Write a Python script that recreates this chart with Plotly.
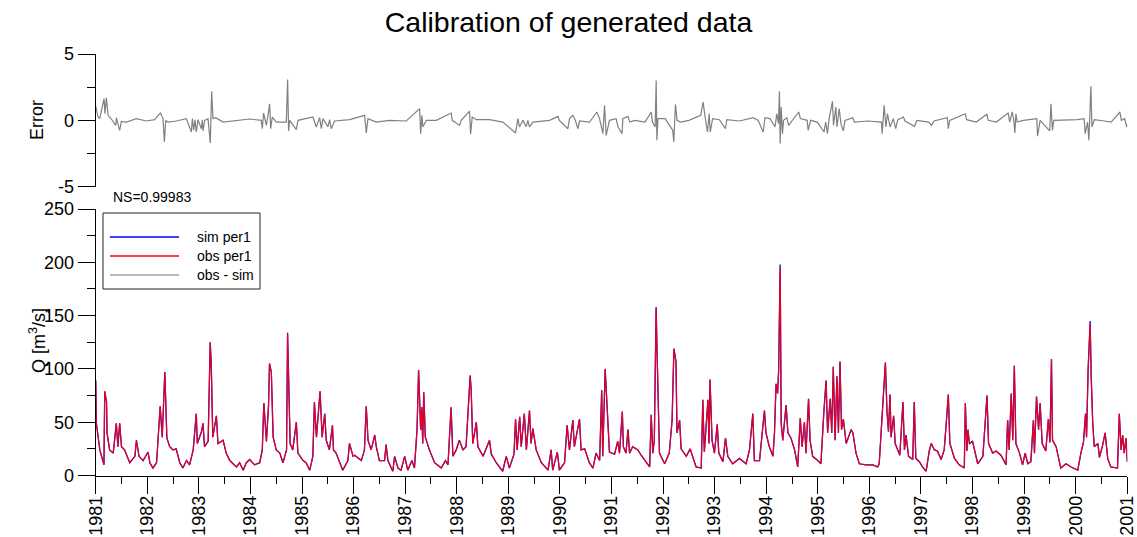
import plotly.graph_objects as go

W, H = 1137, 537

title_text = "Calibration of generated data"
ns_text = "NS=0.99983"
tick_years = list(range(1981, 2002))
tick_labels = [str(y) for y in tick_years]
minor_years = [y + 0.5 for y in range(1981, 2001)]
q_ticks = [0, 50, 100, 150, 200, 250]
q_minor = [25, 75, 125, 175, 225]
e_ticks = [-5, 0, 5]
e_minor = [-2.5, 2.5]
legend_names = ["sim per1", "obs per1", "obs - sim"]

obs_1981_1986 = [
    (1981.00, 89), (1981.013, 49), (1981.08, 24), (1981.14, 14), (1981.16, 10), (1981.175, 79),
    (1981.21, 69), (1981.22, 40), (1981.27, 24), (1981.34, 21), (1981.40, 49), (1981.43, 27),
    (1981.465, 49), (1981.50, 27), (1981.56, 24), (1981.66, 12), (1981.76, 18), (1981.79, 33),
    (1981.84, 18), (1981.92, 14), (1982.015, 22), (1982.05, 12), (1982.11, 7), (1982.18, 12),
    (1982.25, 65), (1982.29, 36), (1982.34, 97), (1982.38, 35), (1982.435, 27), (1982.50, 24),
    (1982.56, 25), (1982.63, 12), (1982.69, 7), (1982.76, 14), (1982.82, 10), (1982.89, 24),
    (1982.95, 58), (1982.97, 30), (1983.05, 41), (1983.08, 49), (1983.11, 27), (1983.18, 32),
    (1983.22, 125), (1983.24, 105), (1983.27, 36), (1983.34, 56), (1983.37, 30), (1983.47, 33),
    (1983.53, 21), (1983.60, 14), (1983.73, 8), (1983.79, 12), (1983.86, 5), (1983.92, 12),
    (1983.985, 15), (1984.08, 10), (1984.18, 12), (1984.23, 24), (1984.26, 68), (1984.31, 32),
    (1984.35, 65), (1984.37, 105), (1984.405, 97), (1984.44, 36), (1984.50, 24), (1984.57, 21),
    (1984.63, 12), (1984.70, 24), (1984.72, 133), (1984.75, 71), (1984.77, 30), (1984.82, 24),
    (1984.89, 50), (1984.92, 21), (1985.02, 14), (1985.08, 12), (1985.15, 5), (1985.21, 18),
    (1985.24, 69), (1985.28, 36), (1985.35, 79), (1985.39, 36), (1985.44, 58), (1985.47, 33),
    (1985.53, 24), (1985.59, 47), (1985.61, 24), (1985.66, 21), (1985.73, 12), (1985.79, 5),
    (1985.89, 14), (1985.92, 30), (1985.99, 18),
]
obs_1986_1991 = [
    (1986.02, 19), (1986.15, 14), (1986.21, 24), (1986.245, 65), (1986.28, 33), (1986.34, 24),
    (1986.41, 38), (1986.44, 27), (1986.50, 14), (1986.60, 14), (1986.63, 29), (1986.665, 14),
    (1986.76, 4), (1986.795, 18), (1986.86, 7), (1986.92, 5), (1986.99, 18), (1987.05, 5),
    (1987.13, 14), (1987.18, 7), (1987.23, 43), (1987.26, 99), (1987.30, 43), (1987.32, 64),
    (1987.34, 30), (1987.36, 78), (1987.39, 36), (1987.47, 24), (1987.57, 12), (1987.70, 7),
    (1987.78, 14), (1987.83, 10), (1987.89, 64), (1987.925, 18), (1987.99, 24), (1988.05, 33),
    (1988.12, 24), (1988.18, 27), (1988.235, 82), (1988.26, 93), (1988.28, 80), (1988.31, 30),
    (1988.38, 50), (1988.41, 27), (1988.51, 18), (1988.635, 33), (1988.67, 20), (1988.765, 12),
    (1988.89, 4), (1988.96, 18), (1989.02, 7), (1989.11, 20), (1989.14, 53), (1989.17, 24),
    (1989.22, 55), (1989.25, 27), (1989.31, 58), (1989.35, 24), (1989.41, 61), (1989.44, 30),
    (1989.475, 44), (1989.54, 24), (1989.64, 12), (1989.77, 5), (1989.83, 24), (1989.86, 5),
    (1989.95, 22), (1989.99, 5), (1990.09, 12), (1990.14, 47), (1990.185, 24), (1990.25, 52),
    (1990.28, 27), (1990.38, 53), (1990.41, 24), (1990.48, 25), (1990.57, 12), (1990.64, 7),
    (1990.70, 21), (1990.77, 14), (1990.81, 80), (1990.83, 18), (1990.877, 100), (1990.915, 57),
    (1990.96, 22), (1991.06, 20), (1991.12, 32),
]
obs_1991_1996 = [
    (1991.155, 21), (1991.21, 60), (1991.23, 27), (1991.28, 21), (1991.32, 43), (1991.35, 21),
    (1991.41, 27), (1991.51, 24), (1991.575, 19), (1991.64, 15), (1991.74, 8), (1991.77, 57),
    (1991.80, 21), (1991.83, 33), (1991.865, 157), (1991.89, 102), (1991.93, 21), (1992.03, 11),
    (1992.12, 21), (1992.175, 52), (1992.21, 119), (1992.25, 107), (1992.27, 40), (1992.32, 52),
    (1992.35, 25), (1992.45, 18), (1992.525, 25), (1992.64, 8), (1992.74, 7), (1992.77, 71),
    (1992.80, 22), (1992.87, 71), (1992.89, 30), (1992.91, 90), (1992.95, 33), (1992.995, 21),
    (1993.05, 48), (1993.08, 21), (1993.16, 13), (1993.21, 35), (1993.255, 18), (1993.35, 11),
    (1993.48, 16), (1993.61, 11), (1993.675, 24), (1993.74, 58), (1993.77, 14), (1993.87, 14),
    (1993.93, 43), (1993.965, 61), (1993.995, 40), (1994.06, 27), (1994.13, 18), (1994.16, 40),
    (1994.19, 86), (1994.22, 77), (1994.24, 98), (1994.27, 196), (1994.29, 49), (1994.32, 33),
    (1994.385, 66), (1994.42, 40), (1994.48, 35), (1994.55, 24), (1994.61, 8), (1994.64, 36),
    (1994.66, 54), (1994.695, 27), (1994.74, 50), (1994.77, 21), (1994.82, 72), (1994.85, 33),
    (1994.90, 18), (1995.00, 14), (1995.06, 11), (1995.115, 58), (1995.16, 89), (1995.19, 40),
    (1995.24, 72), (1995.27, 40), (1995.30, 102), (1995.335, 33), (1995.37, 93), (1995.40, 40),
    (1995.43, 107), (1995.46, 43), (1995.495, 53), (1995.55, 30), (1995.645, 43), (1995.68, 40),
    (1995.74, 21), (1995.805, 11), (1995.935, 10), (1996.065, 10), (1996.16, 8),
]
obs_1996_2001 = [
    (1996.19, 11), (1996.25, 58), (1996.29, 86), (1996.31, 106), (1996.34, 61), (1996.37, 41),
    (1996.40, 76), (1996.42, 36), (1996.47, 56), (1996.50, 30), (1996.55, 24), (1996.59, 19),
    (1996.65, 69), (1996.68, 24), (1996.71, 38), (1996.76, 18), (1996.84, 15), (1996.87, 69),
    (1996.90, 16), (1996.97, 13), (1997.03, 8), (1997.10, 4), (1997.16, 23), (1997.20, 30),
    (1997.26, 24), (1997.32, 23), (1997.39, 15), (1997.45, 24), (1997.49, 49), (1997.53, 76),
    (1997.56, 30), (1997.65, 16), (1997.74, 10), (1997.84, 7), (1997.86, 68), (1997.89, 23),
    (1997.91, 43), (1997.94, 30), (1998.00, 32), (1998.10, 11), (1998.20, 18), (1998.28, 75),
    (1998.31, 30), (1998.39, 21), (1998.455, 23), (1998.55, 19), (1998.65, 10), (1998.68, 52),
    (1998.71, 24), (1998.75, 77), (1998.78, 33), (1998.81, 103), (1998.84, 30), (1998.91, 21),
    (1998.97, 10), (1999.02, 21), (1999.07, 11), (1999.13, 13), (1999.18, 52), (1999.20, 21),
    (1999.24, 74), (1999.28, 43), (1999.31, 68), (1999.35, 30), (1999.42, 23), (1999.47, 53),
    (1999.50, 31), (1999.53, 109), (1999.55, 33), (1999.62, 27), (1999.71, 7), (1999.81, 11),
    (1999.91, 8), (2000.04, 5), (2000.10, 21), (2000.15, 31), (2000.19, 58), (2000.21, 36),
    (2000.24, 99), (2000.26, 121), (2000.28, 143), (2000.30, 93), (2000.33, 49), (2000.36, 27),
    (2000.43, 30), (2000.46, 17), (2000.52, 28), (2000.57, 40), (2000.62, 16), (2000.68, 8),
    (2000.81, 7), (2000.845, 58), (2000.88, 24), (2000.91, 38), (2000.94, 21), (2000.975, 35),
    (2001.0, 13),
]
# simulated peaks that stick out slightly above the observed ones
sim_tips = {1984.72: 134, 1991.865: 158, 1994.27: 198, 2000.28: 145, 1988.26: 94}

# error obs - sim (decimal year, m3/s)
err_1981_1991 = [
    (1981.0, 1.1), (1981.045, 0.25), (1981.078, 0.13), (1981.162, 1.63), (1981.18, 0.5),
    (1981.207, 1.7), (1981.24, 0.38), (1981.304, 0.1), (1981.388, -0.38), (1981.40, 0.2),
    (1981.465, -0.75), (1981.498, -0.08), (1981.595, -0.13), (1981.788, 0.13), (1981.982, -0.05),
    (1982.144, 0.05), (1982.254, 0.57), (1982.305, 0.13), (1982.331, -1.63), (1982.357, 0),
    (1982.40, -0.13), (1982.564, -0.05), (1982.757, 0.13), (1982.854, -0.88), (1982.874, 0.13),
    (1982.90, -0.75), (1982.925, 0.05), (1982.951, -0.88), (1982.983, 0.05), (1983.048, -0.63),
    (1983.067, 0.05), (1983.08, -0.8), (1983.113, 0), (1983.177, 0.13), (1983.222, -1.7),
    (1983.248, 2.2), (1983.274, 0.13), (1983.326, 0.2), (1983.468, -0.13), (1983.726, 0),
    (1983.985, 0.1), (1984.211, 0), (1984.23, -0.63), (1984.256, 0.55), (1984.308, -0.38),
    (1984.34, 0.38), (1984.372, 1.25), (1984.392, -0.63), (1984.424, 0.25), (1984.502, -0.13),
    (1984.695, -0.13), (1984.721, 3.08), (1984.74, -0.8), (1984.76, 0), (1984.889, -0.7),
    (1984.921, 0), (1985.212, 0.25), (1985.277, -0.5), (1985.342, 0.2), (1985.374, -0.63),
    (1985.406, 0.13), (1985.503, -0.5), (1985.535, 0.05), (1985.567, -0.63), (1985.632, -0.05),
    (1985.923, 0.05), (1986.213, 0.38), (1986.246, -0.95), (1986.278, 0.13), (1986.44, -0.13),
    (1986.698, 0), (1987.021, -0.05), (1987.28, 0.88), (1987.30, -1.0), (1987.325, 0.38),
    (1987.344, -0.5), (1987.409, 0), (1987.603, 0), (1987.893, 0.55), (1987.913, 0),
    (1988.055, -0.38), (1988.087, 0), (1988.248, 0.7), (1988.268, -1.05), (1988.30, 0.25),
    (1988.378, 0.05), (1988.636, 0.05), (1988.894, -0.13), (1989.14, -0.95), (1989.185, 0.13),
    (1989.217, -0.5), (1989.282, 0), (1989.346, -0.48), (1989.379, 0), (1989.411, -0.5),
    (1989.476, -0.13), (1989.799, 0), (1989.96, 0.3), (1989.99, 0), (1990.154, -0.63),
    (1990.186, 0.13), (1990.251, 0.38), (1990.30, 0), (1990.348, -0.63), (1990.38, -0.05),
    (1990.574, -0.13), (1990.716, 0.63), (1990.768, 0.13), (1990.833, -1.0), (1990.865, 1.13),
    (1990.897, -1.13),
]
err_1991_2001 = [
    (1990.96, 0), (1991.09, 0.13), (1991.126, -0.5), (1991.205, -1.0), (1991.22, 0.13),
    (1991.32, 0.3), (1991.355, -0.13), (1991.45, 0), (1991.65, -0.13), (1991.77, 0.63),
    (1991.794, -0.13), (1991.846, -0.5), (1991.866, 3.0), (1991.879, -1.5), (1991.90, 0.13),
    (1992.04, 0.13), (1992.187, -0.75), (1992.207, -1.63), (1992.24, 1.2), (1992.27, 0),
    (1992.34, -0.13), (1992.50, 0), (1992.73, 0.38), (1992.776, 1.38), (1992.815, 0.25),
    (1992.86, -0.88), (1992.894, 0.5), (1992.914, -0.88), (1992.96, 0.13), (1993.09, 0.05),
    (1993.21, -0.63), (1993.235, 0.05), (1993.484, -0.05), (1993.745, 0.2), (1993.844, 0),
    (1993.94, -0.88), (1993.975, 0.2), (1994.073, 0.13), (1994.17, -0.5), (1994.204, 0.5),
    (1994.237, -0.25), (1994.256, 2.2), (1994.27, -1.75), (1994.289, 1.0), (1994.315, -1.0),
    (1994.335, 0), (1994.40, 0.2), (1994.433, -0.38), (1994.63, 0.63), (1994.662, 0.13),
    (1994.793, 0), (1994.813, -0.75), (1994.86, 0), (1994.99, -0.13), (1995.12, -0.88),
    (1995.153, -0.13), (1995.186, -1.0), (1995.22, 0.13), (1995.284, 1.43), (1995.304, -0.38),
    (1995.35, 1.0), (1995.37, -0.5), (1995.415, 0.88), (1995.448, -0.25), (1995.494, -0.8),
    (1995.527, 0), (1995.677, 0.2), (1995.71, -0.13), (1995.97, -0.05), (1996.234, -0.13),
    (1996.247, -1.0), (1996.286, 1.13), (1996.32, -0.5), (1996.35, 0.5), (1996.40, -0.5),
    (1996.463, 0.13), (1996.51, -0.63), (1996.55, 0.05), (1996.66, 0.25), (1996.69, -0.05),
    (1996.876, -0.45), (1996.92, 0), (1997.15, -0.13), (1997.204, -0.38), (1997.25, -0.05),
    (1997.51, 0.2), (1997.53, -0.63), (1997.557, 0), (1997.858, 0.5), (1997.884, 0.05),
    (1998.07, -0.13), (1998.277, 0.45), (1998.303, 0), (1998.46, -0.13), (1998.69, 0.55),
    (1998.72, -0.13), (1998.768, 0.63), (1998.80, 0), (1998.82, -0.95), (1998.84, 0.5),
    (1998.866, -0.13), (1998.984, 0), (1999.246, 0.13), (1999.26, -1.2), (1999.31, 0),
    (1999.495, -0.8), (1999.52, 1.25), (1999.548, -0.75), (1999.574, 0), (1999.77, 0),
    (2000.03, 0.05), (2000.164, 0.13), (2000.183, -1.0), (2000.23, -0.13), (2000.255, -1.5),
    (2000.275, 0.5), (2000.294, 2.56), (2000.314, -0.5), (2000.36, 0.05), (2000.556, -0.05),
    (2000.687, -0.13), (2000.857, 0.63), (2000.884, 0), (2000.95, 0.13), (2000.988, -0.5),
    (2001.0, -0.3),
]

obs_all = obs_1981_1986 + obs_1986_1991 + obs_1991_1996 + obs_1996_2001
obs_t = [p[0] for p in obs_all]
obs_q = [p[1] for p in obs_all]
sim_q = [sim_tips.get(t, q) for t, q in obs_all]
err_all = err_1981_1991 + err_1991_2001
err_t = [p[0] for p in err_all]
err_v = [p[1] for p in err_all]

FONT = "Liberation Sans, Arial, sans-serif"


def px(x):
    return x / W


def py(y):
    return 1 - y / H


fig = go.Figure()
fig.add_trace(go.Scatter(x=obs_t, y=sim_q, mode="lines", name=legend_names[0],
                         line=dict(color="#0000ff", width=1.3), xaxis="x", yaxis="y",
                         hoverinfo="skip"))
fig.add_trace(go.Scatter(x=obs_t, y=obs_q, mode="lines", name=legend_names[1],
                         line=dict(color="#ff0000", width=1.2), opacity=0.9,
                         xaxis="x", yaxis="y", hoverinfo="skip"))
fig.add_trace(go.Scatter(x=err_t, y=err_v, mode="lines", name=legend_names[2],
                         line=dict(color="#808080", width=1.2), xaxis="x2", yaxis="y2",
                         hoverinfo="skip"))

xdom = [px(95.7), px(1127.3)]
tickfont = dict(family=FONT, size=18, color="black")
common_y = dict(showgrid=False, zeroline=False, showline=True, linecolor="black",
                linewidth=1, ticks="outside", ticklen=17, tickwidth=1, tickcolor="black",
                tickfont=tickfont, automargin=False)

fig.update_layout(
    width=W, height=H,
    margin=dict(l=0, r=0, t=0, b=0, autoexpand=False),
    paper_bgcolor="white", plot_bgcolor="white",
    showlegend=False,
    font=dict(family=FONT, color="black"),
    title=dict(text=title_text, x=0.5, xanchor="center", y=py(22), yanchor="middle",
               font=dict(family=FONT, size=28.5, color="black"), automargin=False),
    xaxis=dict(domain=xdom, range=[1981, 2001], anchor="y", showgrid=False, zeroline=False,
               showline=True, linecolor="black", linewidth=1, automargin=False,
               tickvals=tick_years, ticktext=tick_labels, tickangle=-90,
               ticklabeloverflow="allow", ticklabelstandoff=-5,
               ticks="outside", ticklen=17, tickwidth=1, tickcolor="black", tickfont=tickfont,
               minor=dict(tickvals=minor_years, ticks="outside", ticklen=7,
                          tickcolor="black", tickwidth=1)),
    yaxis=dict(domain=[py(475.5), py(209)], range=[0, 250], anchor="x",
               tickvals=q_ticks, ticktext=[str(v) for v in q_ticks],
               minor=dict(tickvals=q_minor, ticks="outside", ticklen=8,
                          tickcolor="black", tickwidth=1),
               **common_y),
    xaxis2=dict(domain=xdom, range=[1981, 2001], anchor="y2", visible=False,
                automargin=False),
    yaxis2=dict(domain=[py(186.7), py(54)], range=[-5, 5], anchor="x2",
                tickvals=e_ticks, ticktext=[str(v) for v in e_ticks],
                minor=dict(tickvals=e_minor, ticks="outside", ticklen=8,
                           tickcolor="black", tickwidth=1),
                **common_y),
)

annotations = [
    dict(text="Error", x=px(37), y=py(120), textangle=-90),
    dict(text="Q [m<sup>3</sup>/s]", x=px(37), y=py(341), textangle=-90),
]
anns = []
for a in annotations:
    anns.append(dict(xref="paper", yref="paper", showarrow=False, xanchor="center",
                     yanchor="middle", font=dict(family=FONT, size=18, color="black"), **a))
anns.append(dict(text=ns_text, xref="paper", yref="paper", x=px(111), y=py(197),
                 xanchor="left", yanchor="middle", showarrow=False,
                 font=dict(family=FONT, size=14, color="black")))

legend_colors = ["#0000ff", "#ff0000", "#a0a0a0"]
legend_rows = [237, 256, 275]
shapes = [dict(type="rect", xref="paper", yref="paper", x0=px(103), x1=px(260),
               y0=py(289), y1=py(213), line=dict(color="#222222", width=1),
               fillcolor="white", layer="above")]
for name, col, ry in zip(legend_names, legend_colors, legend_rows):
    shapes.append(dict(type="line", xref="paper", yref="paper", x0=px(110), x1=px(179),
                       y0=py(ry), y1=py(ry), line=dict(color=col, width=1.5), layer="above"))
    anns.append(dict(text=name, xref="paper", yref="paper", x=px(195), y=py(ry),
                     xanchor="left", yanchor="middle", showarrow=False,
                     font=dict(family=FONT, size=14, color="black")))

fig.update_layout(annotations=anns, shapes=shapes)
fig.write_html("out.html")
